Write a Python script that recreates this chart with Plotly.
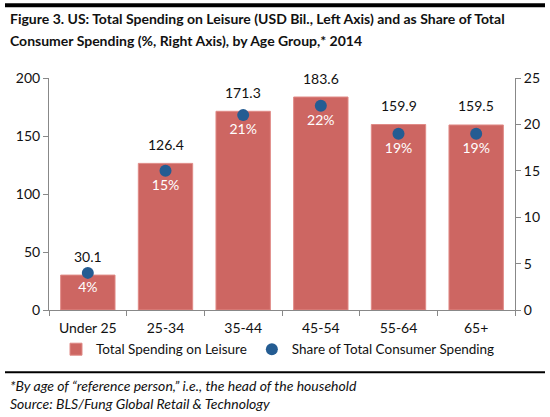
import plotly.graph_objects as go

categories = ["Under 25", "25-34", "35-44", "45-54", "55-64", "65+"]
spending = [30.1, 126.4, 171.3, 183.6, 159.9, 159.5]
share = [4, 15, 21, 22, 19, 19]
share_labels = ["4%", "15%", "21%", "22%", "19%", "19%"]

W, H = 550, 417
L, R, T, B = 49, 35, 78, 106.5
pw, ph = W - L - R, H - T - B

def px(x):
    return (x - L) / pw

def py(y):
    return (H - B - y) / ph

FONT = "Lato, Carlito, Calibri, sans-serif"
BAR = "#CD6662"
DOT = "#245C92"
AX = "#888888"

fig = go.Figure()
fig.add_trace(go.Bar(
    x=categories, y=spending, name="Total Spending on Leisure",
    marker=dict(color=BAR, line=dict(color="#E08A86", width=1)),
    yaxis="y",
))
fig.add_trace(go.Scatter(
    x=categories, y=share, name="Share of Total Consumer Spending",
    mode="markers+text", marker=dict(color=DOT, size=12),
    text=share_labels, textposition="bottom center",
    textfont=dict(color="white", size=14, family=FONT),
    yaxis="y2", cliponaxis=False,
))

annotations = [
    dict(x=c, y=v, xref="x", yref="y", text=f"{v:.1f}", showarrow=False,
         yanchor="middle", yshift=19, font=dict(size=14, color="#111111"))
    for c, v in zip(categories, spending)
]
annotations += [
    dict(xref="paper", yref="paper", x=px(8), y=py(18), xanchor="left", yanchor="middle",
         text="<b>Figure 3. US: Total Spending on Leisure (USD Bil., Left Axis) and as Share of Total</b>",
         showarrow=False, font=dict(size=14, color="#111111")),
    dict(xref="paper", yref="paper", x=px(8), y=py(40), xanchor="left", yanchor="middle",
         text="<b>Consumer Spending (%, Right Axis), by Age Group,* 2014</b>",
         showarrow=False, font=dict(size=14, color="#111111")),
    dict(xref="paper", yref="paper", x=px(8), y=py(386), xanchor="left", yanchor="middle",
         text="<i>*By age of “reference person,” i.e., the head of the household</i>",
         showarrow=False, font=dict(size=14, color="#111111")),
    dict(xref="paper", yref="paper", x=px(8), y=py(404), xanchor="left", yanchor="middle",
         text="<i>Source: BLS/Fung Global Retail &amp; Technology</i>",
         showarrow=False, font=dict(size=14, color="#111111")),
]

fig.update_layout(
    width=W, height=H,
    margin=dict(l=L, r=R, t=T, b=B, autoexpand=False),
    paper_bgcolor="white", plot_bgcolor="white",
    font=dict(family=FONT, size=14, color="#111111"),
    bargap=0.3,
    showlegend=True,
    legend=dict(orientation="h", x=px(278), xanchor="center", y=py(350), yanchor="middle",
                font=dict(size=13.5), itemwidth=30, bgcolor="rgba(0,0,0,0)"),
    xaxis=dict(showline=True, linecolor=AX, ticks="outside", tickcolor=AX, ticklen=5,
               tickson="boundaries", showgrid=False, tickfont=dict(size=14),
               ticklabelstandoff=5),
    yaxis=dict(range=[0, 200], dtick=50, showline=True, linecolor=AX, ticks="outside",
               tickcolor=AX, ticklen=5, showgrid=False, zeroline=False, tickfont=dict(size=14)),
    yaxis2=dict(range=[0, 25], dtick=5, overlaying="y", side="right", showline=True,
                linecolor=AX, ticks="outside", tickcolor=AX, ticklen=5, showgrid=False,
                zeroline=False, tickfont=dict(size=14)),
    shapes=[
        dict(type="line", xref="paper", yref="paper", x0=px(5), x1=px(545), y0=py(5), y1=py(5),
             line=dict(color="black", width=4)),
        dict(type="line", xref="paper", yref="paper", x0=px(5), x1=px(545), y0=py(373), y1=py(373),
             line=dict(color="black", width=2)),
    ],
    annotations=annotations,
)

fig.write_html("out.html", config={"displayModeBar": False},
               post_script="document.body.style.margin='0';document.body.style.padding='0';")
